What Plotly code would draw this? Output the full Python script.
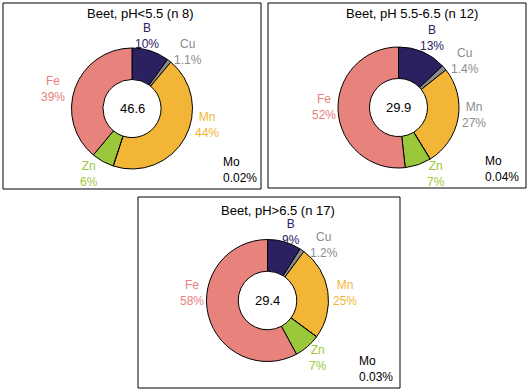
import plotly.graph_objects as go

W, H = 529, 392
nutrients = ["B", "Cu", "Mn", "Mo", "Zn", "Fe"]
titles = ["Beet, pH<5.5 (n 8)", "Beet, pH 5.5-6.5 (n 12)", "Beet, pH>6.5 (n 17)"]
totals = ["46.6", "29.9", "29.4"]
vals_p1 = [10, 1.1, 44, 0.02, 6, 39]
vals_p2 = [13, 1.4, 27, 0.04, 7, 52]
vals_p3 = [9, 1.2, 25, 0.03, 7, 58]
pct_p1 = ["10%", "1.1%", "44%", "0.02%", "6%", "39%"]
pct_p2 = ["13%", "1.4%", "27%", "0.04%", "7%", "52%"]
pct_p3 = ["9%", "1.2%", "25%", "0.03%", "7%", "58%"]

slice_colors = ["#2b2060", "#8c8c8c", "#f2b535", "#000000", "#9bc83a", "#e8827c"]
label_colors_p1 = ["#2b2060", "#8c8c8c", "#f2b535", "#000000", "#9bc83a", "#e8827c"]
label_colors_p2 = ["#2b2060", "#8c8c8c", "#8c8c8c", "#000000", "#9bc83a", "#e8827c"]
label_colors_p3 = label_colors_p1

# layout (pixels)
panels = [
    dict(box=(3, 3, 261, 189), center=(132, 108.5), r=60.5, title=(140, 14),
         vals=vals_p1, pct=pct_p1, lc=label_colors_p1,
         lab={"B": (147, 36), "Cu": (188, 52), "Mn": (207, 125), "Zn": (89, 174), "Fe": (53, 89)},
         mo=(221, 170)),
    dict(box=(268, 3, 526, 188), center=(398.5, 107.5), r=60.5, title=(412, 14),
         vals=vals_p2, pct=pct_p2, lc=label_colors_p2,
         lab={"B": (432, 38), "Cu": (465, 61), "Mn": (474, 115), "Zn": (436, 174), "Fe": (324, 107)},
         mo=(483, 169)),
    dict(box=(138, 197, 400, 388), center=(267.5, 300.5), r=61, title=(278, 210),
         vals=vals_p3, pct=pct_p3, lc=label_colors_p3,
         lab={"B": (291, 232), "Cu": (324, 245), "Mn": (345, 293), "Zn": (318, 358), "Fe": (192, 293)},
         mo=(357, 369)),
]

font = "Liberation Sans, Arial, sans-serif"
fig = go.Figure()
shapes = []
annotations = []


def ann(text, x, y, color, size=12, xanchor="center", align="center"):
    return dict(text=text, x=x / W, y=1 - y / H, xref="paper", yref="paper", showarrow=False,
                xanchor=xanchor, yanchor="middle", align=align,
                font=dict(size=size, color=color, family=font))


for k, p in enumerate(panels):
    cx, cy = p["center"]
    r = p["r"]
    fig.add_trace(go.Pie(
        labels=nutrients, values=p["vals"], sort=False, direction="clockwise", rotation=0,
        hole=0.48, textinfo="none", hoverinfo="label+percent",
        marker=dict(colors=slice_colors, line=dict(color="black", width=1)),
        domain=dict(x=[(cx - r) / W, (cx + r) / W], y=[1 - (cy + r) / H, 1 - (cy - r) / H]),
        showlegend=False,
    ))
    x0, y0, x1, y1 = p["box"]
    shapes.append(dict(type="rect", xref="paper", yref="paper",
                       x0=x0 / W, x1=x1 / W, y0=1 - y1 / H, y1=1 - y0 / H,
                       line=dict(color="black", width=1), fillcolor="rgba(0,0,0,0)"))
    tx, ty = p["title"]
    annotations.append(ann(titles[k], tx, ty, "black", size=13))
    annotations.append(ann(totals[k], cx, cy, "black", size=13))
    for i, n in enumerate(nutrients):
        if n == "Mo":
            mx, my = p["mo"]
            annotations.append(ann(f"{n}<br>{p['pct'][i]}", mx, my, p["lc"][i],
                                   xanchor="left", align="left"))
        else:
            lx, ly = p["lab"][n]
            annotations.append(ann(f"{n}<br>{p['pct'][i]}", lx, ly, p["lc"][i]))

fig.update_layout(width=W, height=H, margin=dict(l=0, r=0, t=0, b=0),
                  paper_bgcolor="white", plot_bgcolor="white",
                  shapes=shapes, annotations=annotations)
fig.write_html("out.html", config={"displayModeBar": False},
               post_script="document.body.style.margin='0';document.body.style.overflow='hidden';")
